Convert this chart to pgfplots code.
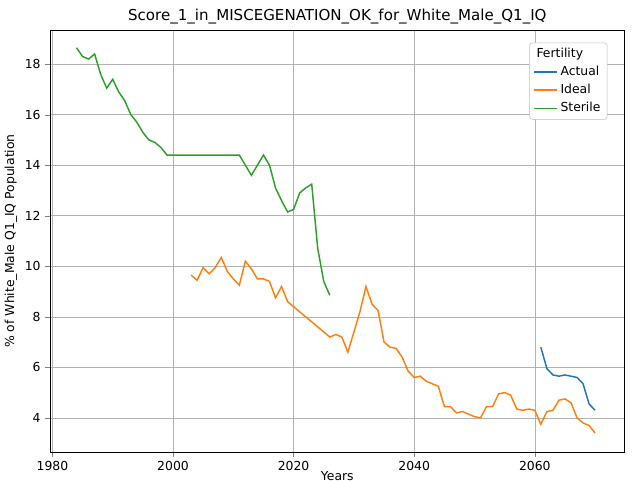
\documentclass[border=0pt]{standalone}
\usepackage{pgfplots}
\pgfplotsset{compat=1.18}
\usepackage{fontspec}
\setmainfont{DejaVu Sans}
\definecolor{c1}{HTML}{1F77B4}
\definecolor{c2}{HTML}{FF7F0E}
\definecolor{c3}{HTML}{2CA02C}
\begin{document}
\begin{tikzpicture}
\useasboundingbox (-37.5pt,-21pt) rectangle (442.5pt,339pt);
\begin{axis}[at={(0,0)},anchor=south west,scale only axis,width=431pt,height=316.5pt,
 xmin=1979.6,xmax=2074.9,ymin=2.65,ymax=19.35,
 xtick={1980,2000,2020,2040,2060},ytick={4,6,8,10,12,14,16,18},
 tick align=outside,tick pos=left,major tick length=3.5pt,
 grid=major,grid style={gray!60},
 /pgf/number format/assume math mode=true,/pgf/number format/1000 sep={},
 tick label style={font=\fontsize{9.3}{11}\selectfont},
 label style={font=\fontsize{9.3}{11}\selectfont},
 xlabel={Years},ylabel={\% of White\_Male Q1\_IQ Population},
 xlabel style={yshift=6pt},ylabel style={yshift=-1pt},
 title={Score\_1\_in\_MISCEGENATION\_OK\_for\_White\_Male\_Q1\_IQ},
 title style={font=\fontsize{11.3}{13}\selectfont,yshift=-5pt},
 legend pos=north east,
 legend style={font=\fontsize{9.3}{11}\selectfont,draw=gray!50,rounded corners=2pt,row sep=1pt},
 legend cell align=left]
\addlegendimage{empty legend}\addlegendentry{\hspace{-18pt}Fertility}
\addplot[c1,line width=1.1pt] coordinates {(2061,6.8)(2062,5.95)(2063,5.7)(2064,5.65)(2065,5.7)(2066,5.65)(2067,5.6)(2068,5.35)(2069,4.55)(2070,4.3)};
\addlegendentry{Actual}
\addplot[c2,line width=1.1pt] coordinates {(2003,9.65)(2004,9.45)(2005,9.95)(2006,9.7)(2007,9.95)(2008,10.35)(2009,9.8)(2010,9.5)(2011,9.25)(2012,10.2)(2013,9.9)(2014,9.5)(2015,9.5)(2016,9.4)(2017,8.75)(2018,9.2)(2019,8.6)(2020,8.4)(2021,8.2)(2022,8.0)(2023,7.8)(2024,7.6)(2025,7.4)(2026,7.2)(2027,7.3)(2028,7.2)(2029,6.6)(2030,7.4)(2031,8.2)(2032,9.2)(2033,8.5)(2034,8.25)(2035,7.0)(2036,6.8)(2037,6.75)(2038,6.4)(2039,5.85)(2040,5.6)(2041,5.65)(2042,5.45)(2043,5.35)(2044,5.25)(2045,4.45)(2046,4.45)(2047,4.2)(2048,4.25)(2049,4.15)(2050,4.05)(2051,4.0)(2052,4.45)(2053,4.45)(2054,4.95)(2055,5.0)(2056,4.9)(2057,4.35)(2058,4.3)(2059,4.35)(2060,4.3)(2061,3.75)(2062,4.25)(2063,4.3)(2064,4.7)(2065,4.75)(2066,4.6)(2067,4.0)(2068,3.8)(2069,3.7)(2070,3.4)};
\addlegendentry{Ideal}
\addplot[c3,line width=1.1pt] coordinates {(1984,18.65)(1985,18.3)(1986,18.2)(1987,18.4)(1988,17.6)(1989,17.05)(1990,17.4)(1991,16.9)(1992,16.55)(1993,16.0)(1994,15.7)(1995,15.3)(1996,15.0)(1997,14.9)(1998,14.7)(1999,14.4)(2000,14.4)(2005,14.4)(2011,14.4)(2012,14.0)(2013,13.6)(2014,14.0)(2015,14.4)(2016,14.0)(2017,13.1)(2018,12.6)(2019,12.15)(2020,12.25)(2021,12.9)(2022,13.1)(2023,13.25)(2024,10.7)(2025,9.4)(2026,8.85)};
\addlegendentry{Sterile}
\end{axis}
\end{tikzpicture}
\end{document}
